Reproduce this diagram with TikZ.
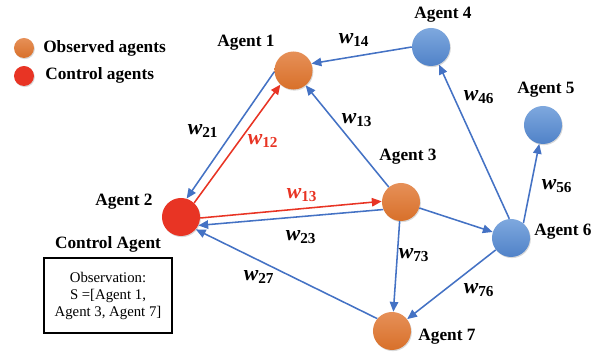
\documentclass[tikz,border=0pt]{standalone}
\usepackage{fontspec}
\setmainfont{Liberation Serif}
\usepackage{tikz}
\usetikzlibrary{arrows.meta, positioning, shadows}
\definecolor{edgeblue}{RGB}{68, 114, 196}
\definecolor{ctrlred}{RGB}{232, 52, 36}
\definecolor{orangetop}{RGB}{230, 144, 88}
\definecolor{orangebot}{RGB}{216, 112, 42}
\definecolor{bluetop}{RGB}{126, 168, 222}
\definecolor{bluebot}{RGB}{80, 130, 200}
\tikzstyle{observed} = [
    circle, 
    minimum size=0.95cm, 
    inner sep=0pt, 
    top color=orangetop, 
    bottom color=orangebot,
    drop shadow={shadow xshift=0.6pt, shadow yshift=-0.8pt, opacity=0.3}
]
\tikzstyle{hidden} = [
    observed, 
    top color=bluetop, 
    bottom color=bluebot
]
\tikzstyle{control} = [
    circle, 
    minimum size=0.95cm, 
    inner sep=0pt, 
    fill=ctrlred,
    drop shadow={shadow xshift=0.6pt, shadow yshift=-0.8pt, opacity=0.3}
]
\tikzstyle{agentlabel} = [
    font=\fontsize{12.3}{14}\selectfont\bfseries
]
\tikzstyle{weight} = [
    inner sep=0pt, 
    font=\fontsize{15.5}{17}\selectfont\bfseries\itshape
]
\tikzstyle{link} = [
    line width=1.1pt, 
    draw=edgeblue, 
    -{Triangle[length=7pt, width=6pt]}
]
\tikzstyle{ctrllink} = [
    link, 
    draw=ctrlred
]
\newcommand{\wlab}[1]{w\textsubscript{\upshape\bfseries #1}}

\begin{document}
\begin{tikzpicture}[x=0.025cm, y=-0.025cm]
        \useasboundingbox (0,0) rectangle (601,353);
        % Legend
        \node[observed, minimum size=0.5cm] (legobs) at (24,48) {};
        \node[control, minimum size=0.5cm] (legctrl) at (24,76) {};
        \node[agentlabel, anchor=west, inner sep=0pt] (legobstext) at (43,48) {Observed agents};
        \node[agentlabel, anchor=west, inner sep=0pt] (legctrltext) at (45,75) {Control agents};
        
        % Agents
        \node[observed] (a1) at (293.5,70.5) {};
        \node[control] (a2) at (181,217) {};
        \node[observed] (a3) at (401,202) {};
        \node[hidden] (a4) at (431,47) {};
        \node[hidden] (a5) at (543,125) {};
        \node[hidden] (a6) at (511,238) {};
        \node[observed] (a7) at (392,331) {};
        
        % Agent names
        \node[agentlabel] (n1) at (246,43) {Agent 1};
        \node[agentlabel] (n2) at (124,202) {Agent 2};
        \node[agentlabel] (n3) at (408,157) {Agent 3};
        \node[agentlabel] (n4) at (443,15) {Agent 4};
        \node[agentlabel] (n5) at (546,90) {Agent 5};
        \node[agentlabel] (n6) at (563,232) {Agent 6};
        \node[agentlabel] (n7) at (447,337) {Agent 7};
        
        % Observation box
        \node[draw, line width=0.8pt, minimum width=3.2cm, minimum height=1.875cm, align=center,
              font=\fontsize{10.5}{12.1}\selectfont] (obs) at (108,295.5)
              {Observation:\\S =[Agent 1,\\Agent 3, Agent 7]};
        \node[agentlabel, above=0pt of obs] (ctrlhead) {Control Agent};
        
        % Links
        \draw[link] (a4.west) -- (a1.21);
        \draw[link] (a3) -- (a1);
        \draw[link] (a1.184) -- (a2.73);
        \draw[ctrllink] (a2.47) -- (a1.227);
        \draw[ctrllink] (a2.357) -- (a3.178);
        \draw[link] (a3.203) -- (a2.334);
        \draw[link] (a7.140) -- (a2.320);
        \draw[link] (a3) -- (a7);
        \draw[link] (a3) -- (a6);
        \draw[link] (a6.95) -- (a4);
        \draw[link] (a6.50) -- (a5);
        \draw[link] (a6) -- (a7);
        
        % Weights
        \node[weight] (w21) at (203,131) {\wlab{21}};
        \node[weight, text=ctrlred] (w12) at (263,141) {\wlab{12}};
        \node[weight] (w14) at (354,40) {\wlab{14}};
        \node[weight] (w13) at (357,120) {\wlab{13}};
        \node[weight, text=ctrlred] (w13c) at (302,195) {\wlab{13}};
        \node[weight] (w23) at (301,237) {\wlab{23}};
        \node[weight] (w46) at (479,97) {\wlab{46}};
        \node[weight] (w56) at (557,186) {\wlab{56}};
        \node[weight] (w73) at (414,255) {\wlab{73}};
        \node[weight] (w76) at (479,290) {\wlab{76}};
        \node[weight] (w27) at (259,277) {\wlab{27}};
    \end{tikzpicture}
\end{document}
